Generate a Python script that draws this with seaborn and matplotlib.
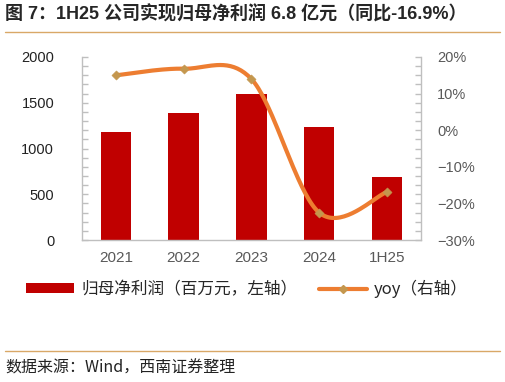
import numpy as np
import pandas as pd
import matplotlib
matplotlib.use("Agg")
import matplotlib.pyplot as plt
import seaborn as sns
from matplotlib.lines import Line2D
from matplotlib.patches import Patch
from matplotlib.ticker import MultipleLocator, FuncFormatter

# ---- data ----
categories = ["2021", "2022", "2023", "2024", "1H25"]
profit = [1180, 1385, 1592, 1232, 685]          # 归母净利润（百万元）
yoy = [15.0, 16.8, 14.0, -22.5, -16.9]          # 同比（%）

title = "图 7：1H25 公司实现归母净利润 6.8 亿元（同比-16.9%）"
legend_bar = "归母净利润（百万元，左轴）"
legend_line = "yoy（右轴）"
source = "数据来源：Wind，西南证券整理"

sns.set_theme(style="white")
plt.rcParams['font.family'] = ['Liberation Sans', 'Noto Sans CJK SC', 'DejaVu Sans']
plt.rcParams['axes.unicode_minus'] = True

W, H = 506, 382
fig = plt.figure(figsize=(W / 100, H / 100), dpi=100)
ax = fig.add_axes([82 / W, 1 - 240 / H, (420.7 - 82) / W, (240 - 57) / H])

df = pd.DataFrame({"cat": categories, "profit": profit, "yoy": yoy})

BAR = "#C00000"
LINE = "#ED7D31"
MARK = "#C4974E"
GREY = "#BFBFBF"
TXT = "#595959"

sns.barplot(data=df, x="cat", y="profit", color=BAR, width=0.45, ax=ax,
            saturation=1, edgecolor="none", zorder=2)
ax.set_xlim(-0.5, 4.5)
ax.set_ylim(0, 2000)
ax.yaxis.set_major_locator(MultipleLocator(500))
ax.yaxis.set_minor_locator(MultipleLocator(100))
ax.set_xlabel("")
ax.set_ylabel("")

ax2 = ax.twinx()
ax2.set_ylim(-30, 20)
ax2.yaxis.set_major_locator(MultipleLocator(10))
ax2.yaxis.set_minor_locator(MultipleLocator(2.5))
ax2.yaxis.set_major_formatter(FuncFormatter(lambda v, p: f"{v:.0f}%".replace("-", "\u2212")))

# smoothed (Excel-like Catmull-Rom Bezier) line in pixel-proportional space
sx, sy = 67.7, 183 / 50.0
xs = np.arange(len(yoy)) * sx
ys = np.array(yoy) * sy
pts = np.column_stack([xs, ys])
curve = []
t = np.linspace(0, 1, 40)
n = len(pts)
for i in range(n - 1):
    p0 = pts[max(i - 1, 0)]
    p1 = pts[i]
    p2 = pts[i + 1]
    p3 = pts[min(i + 2, n - 1)]
    c1 = p1 + (p2 - p0) / 6
    c2 = p2 - (p3 - p1) / 6
    seg = ((1 - t)[:, None] ** 3 * p1 + 3 * (1 - t)[:, None] ** 2 * t[:, None] * c1
           + 3 * (1 - t)[:, None] * t[:, None] ** 2 * c2 + t[:, None] ** 3 * p2)
    curve.append(seg)
curve = np.vstack(curve)
ax2.plot(curve[:, 0] / sx, curve[:, 1] / sy, color=LINE, lw=3, solid_capstyle="round", zorder=3)
sns.scatterplot(x=np.arange(len(yoy)), y=yoy, marker="D", s=22, color=MARK,
                edgecolor=MARK, ax=ax2, zorder=4)

for a in (ax, ax2):
    for s in a.spines.values():
        s.set_color(GREY)
        s.set_linewidth(1)
    a.spines["top"].set_visible(False)
    a.grid(False)
ax.spines["right"].set_visible(False)
ax2.spines["left"].set_visible(False)
ax2.spines["bottom"].set_visible(False)

ax.tick_params(axis="y", which="both", direction="in", color=GREY, length=4, width=1,
               labelsize=10.5, labelcolor="#222222", pad=20)
ax.tick_params(axis="x", length=0, labelsize=11, labelcolor=TXT, pad=8)
ax2.tick_params(axis="y", which="both", direction="in", color=GREY, length=4, width=1,
                labelsize=10.5, labelcolor=TXT, pad=12)

# title and rules
fig.text(5 / W, 1 - 14 / H, title, fontsize=13, fontweight="bold", va="center", ha="left",
         family=["Liberation Sans", "Noto Sans CJK SC"])
RULE = "#D9A867"
fig.add_artist(Line2D([5 / W, 500 / W], [1 - 32 / H, 1 - 32 / H], color=RULE, lw=1))
fig.add_artist(Line2D([5 / W, 500 / W], [1 - 351 / H, 1 - 351 / H], color=RULE, lw=1))

# legend
handles = [Patch(facecolor=BAR, edgecolor="none"),
           Line2D([0], [0], color=LINE, lw=3, marker="D", markersize=4,
                  markerfacecolor=MARK, markeredgecolor=MARK)]
fig.legend(handles, [legend_bar, legend_line], loc="center", ncol=2,
           bbox_to_anchor=(247 / W, 1 - 289 / H), frameon=False,
           handlelength=2.9, handleheight=0.55, columnspacing=1.3, handletextpad=0.4,
           prop={"family": ["Noto Sans CJK SC", "DejaVu Sans"], "size": 12})

fig.text(5 / W, 1 - 368 / H, source, fontsize=11.5, va="center", ha="left",
         family=["Noto Sans CJK SC", "DejaVu Sans"], color="#222222")

fig.savefig("out.png", dpi=100)
